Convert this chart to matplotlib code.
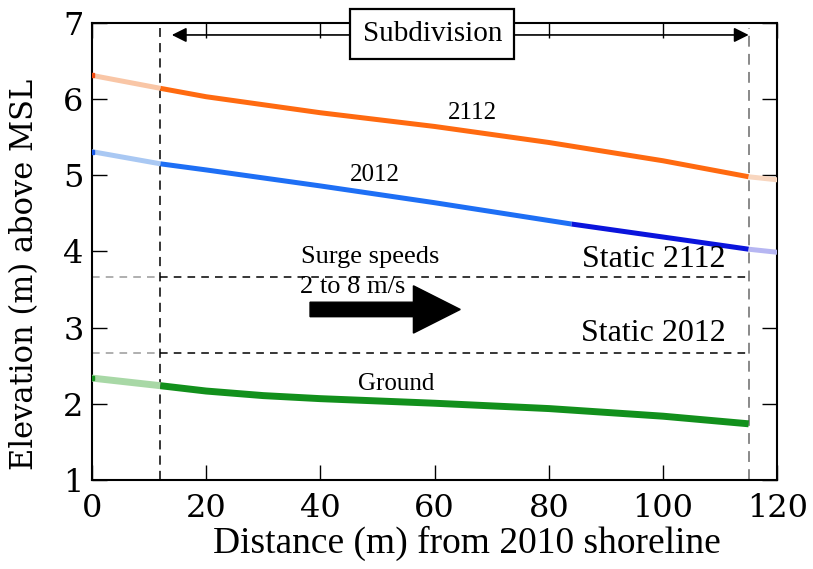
import numpy as np
import matplotlib.pyplot as plt
from matplotlib.patches import FancyArrow

# distances (m) and elevations (m above MSL)
dist_2112 = [0, 12, 20, 40, 60, 80, 100, 115, 120]
elev_2112 = [6.31, 6.14, 6.03, 5.82, 5.64, 5.43, 5.19, 4.98, 4.94]

dist_2012 = [0, 12, 20, 40, 60, 84, 100, 115, 120]
elev_2012 = [5.31, 5.15, 5.07, 4.86, 4.64, 4.36, 4.19, 4.03, 3.99]

dist_ground = [0, 12, 20, 30, 40, 60, 80, 100, 115]
elev_ground = [2.34, 2.24, 2.17, 2.11, 2.07, 2.01, 1.94, 1.84, 1.74]

static_2112 = 3.67
static_2012 = 2.67
subdiv_start, subdiv_end = 12, 115

serif = 'Liberation Serif'
wide = 'DejaVu Serif'

fig = plt.figure(figsize=(8.13, 5.69), dpi=100)
ax = fig.add_axes([0.113, 0.156, 0.843, 0.804])


def seg(x, y, i0, i1, color, lw):
    ax.plot(x[i0:i1 + 1], y[i0:i1 + 1], color=color, lw=lw,
            solid_capstyle='butt', zorder=3)


# 2112 (orange)
seg(dist_2112, elev_2112, 0, 1, '#f9c6a6', 3.6)
seg(dist_2112, elev_2112, 1, 7, '#ff6a10', 3.6)
seg(dist_2112, elev_2112, 7, 8, '#f8d6bf', 3.6)
# 2012 (blue)
seg(dist_2012, elev_2012, 0, 1, '#a9c8f3', 3.6)
seg(dist_2012, elev_2012, 1, 5, '#1e6ff5', 3.6)
seg(dist_2012, elev_2012, 5, 7, '#0a14dc', 3.6)
seg(dist_2012, elev_2012, 7, 8, '#b6b6f2', 3.6)
# ground (green)
seg(dist_ground, elev_ground, 0, 1, '#a8d8a6', 5)
seg(dist_ground, elev_ground, 1, 8, '#12901c', 5)
for x, y, c in [(dist_2112[0], elev_2112[0], '#f04a10'),
                (dist_2012[0], elev_2012[0], '#1858e8'),
                (dist_ground[0], elev_ground[0], '#12901c')]:
    ax.plot(x, y, 's', color=c, ms=3.5, zorder=4)

# static water levels
for lvl in [static_2112, static_2012]:
    ax.plot([0, subdiv_start], [lvl, lvl], color='#9a9a9a', ls=(0, (5, 4)), lw=1.1)
    ax.plot([subdiv_start, subdiv_end], [lvl, lvl], color='black', ls=(0, (5, 4)), lw=1.1)

# subdivision bounds
ax.plot([subdiv_start, subdiv_start], [1, 6.93], color='black', ls=(0, (6, 4)), lw=1.1)
ax.plot([subdiv_end, subdiv_end], [1, 6.93], color='#808080', ls=(0, (6, 4)), lw=1.3)

ax.annotate('', xy=(14, 6.84), xytext=(115, 6.84),
            arrowprops=dict(arrowstyle='<|-|>', color='black', lw=1.2,
                            mutation_scale=22, shrinkA=0, shrinkB=0))
ax.text(59.6, 6.85, 'Subdivision', ha='center', va='center', family=serif,
        fontsize=21, zorder=5,
        bbox=dict(boxstyle='square,pad=0.42', fc='white', ec='black', lw=1.6))

# surge arrow
ax.add_patch(FancyArrow(38.2, 3.24, 26.3, 0, width=0.19, head_width=0.62,
                        head_length=8.2, length_includes_head=True,
                        color='black', zorder=4))

ax.text(48.8, 3.93, 'Surge speeds', ha='center', va='center', family=serif, fontsize=19)
ax.text(36.5, 3.54, '2 to 8 m/s', ha='left', va='center', family=serif, fontsize=19)
ax.text(66.6, 5.81, '2112', ha='center', va='center', family=serif, fontsize=18)
ax.text(49.6, 5.0, '2012', ha='center', va='center', family=serif, fontsize=18)
ax.text(53.3, 2.26, 'Ground', ha='center', va='center', family=serif, fontsize=18)
ax.text(111, 3.89, 'Static 2112', ha='right', va='center', family=serif, fontsize=23)
ax.text(111, 2.93, 'Static 2012', ha='right', va='center', family=serif, fontsize=23)

ax.set_xlim(0, 120)
ax.set_ylim(1, 7)
ax.set_xticks(np.arange(0, 121, 20))
ax.set_yticks(np.arange(1, 8, 1))
ax.tick_params(direction='in', length=11, width=1, top=True, right=True,
               labelsize=23)
ax.tick_params(axis='x', pad=9)
ax.tick_params(axis='y', pad=6)
for lab in ax.get_xticklabels() + ax.get_yticklabels():
    lab.set_family(wide)
for s in ax.spines.values():
    s.set_linewidth(1.5)

ax.set_xlabel('Distance (m) from 2010 shoreline', family=serif, fontsize=27)
ax.set_ylabel('Elevation (m) above MSL', family=wide, fontsize=22)
ax.xaxis.set_label_coords(0.547, -0.10)
ax.yaxis.set_label_coords(-0.075, 0.45)

fig.savefig('out.png', dpi=100)
